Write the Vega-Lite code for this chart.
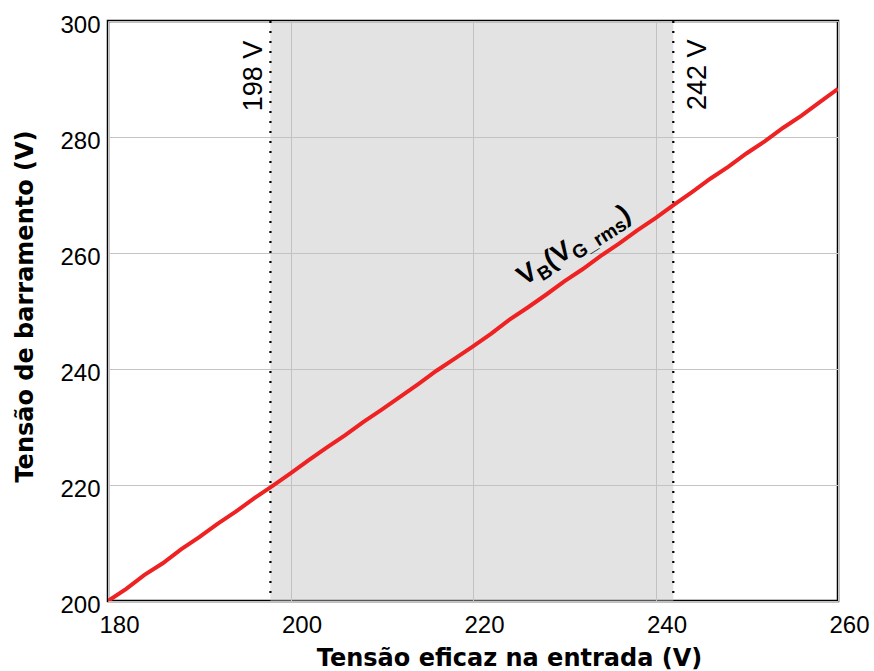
{
  "$schema": "https://vega.github.io/schema/vega-lite/v6.json",
  "width": 730,
  "height": 580,
  "autosize": {"type": "none"},
  "padding": {"left": 108, "top": 21, "right": 36, "bottom": 70},
  "background": "white",
  "config": {
    "view": {"stroke": "#000000", "strokeWidth": 2.5},
    "axis": {
      "domain": false,
      "ticks": false,
      "tickSize": 0,
      "grid": true,
      "gridColor": "#c4c4c4",
      "gridWidth": 1,
      "labelFont": "Liberation Sans",
      "labelFontSize": 24,
      "labelColor": "#000000",
      "labelFlush": false,
      "labelOverlap": false,
      "titleFont": "DejaVu Sans",
      "titleFontWeight": "bold",
      "titleFontSize": 24,
      "titleColor": "#000000"
    }
  },
  "datasets": {
    "curve": [
      {"vin": 180, "vb": 200.0}, {"vin": 182, "vb": 202.1}, {"vin": 184, "vb": 204.5},
      {"vin": 186, "vb": 206.5}, {"vin": 188, "vb": 208.9}, {"vin": 190, "vb": 211.0},
      {"vin": 192, "vb": 213.3}, {"vin": 194, "vb": 215.4}, {"vin": 196, "vb": 217.7},
      {"vin": 198, "vb": 219.8}, {"vin": 200, "vb": 222.0}, {"vin": 202, "vb": 224.3},
      {"vin": 204, "vb": 226.5}, {"vin": 206, "vb": 228.6}, {"vin": 208, "vb": 230.9},
      {"vin": 210, "vb": 233.0}, {"vin": 212, "vb": 235.2}, {"vin": 214, "vb": 237.4},
      {"vin": 216, "vb": 239.7}, {"vin": 218, "vb": 241.8}, {"vin": 220, "vb": 243.9},
      {"vin": 222, "vb": 246.1}, {"vin": 224, "vb": 248.5}, {"vin": 226, "vb": 250.6},
      {"vin": 228, "vb": 252.8}, {"vin": 230, "vb": 255.1}, {"vin": 232, "vb": 257.2},
      {"vin": 234, "vb": 259.5}, {"vin": 236, "vb": 261.6}, {"vin": 238, "vb": 263.9},
      {"vin": 240, "vb": 266.0}, {"vin": 242, "vb": 268.3}, {"vin": 244, "vb": 270.5},
      {"vin": 246, "vb": 272.8}, {"vin": 248, "vb": 274.9}, {"vin": 250, "vb": 277.2},
      {"vin": 252, "vb": 279.3}, {"vin": 254, "vb": 281.6}, {"vin": 256, "vb": 283.7},
      {"vin": 258, "vb": 286.0}, {"vin": 260, "vb": 288.3}
    ],
    "band": [{"vin": 197.8, "vin_end": 241.95}],
    "limits": [{"vin": 197.8}, {"vin": 241.95}],
    "lowLabel": [{"vin": 197.8, "vb": 296.6, "label": "198 V"}],
    "highLabel": [{"vin": 241.95, "vb": 296.8, "label": "242 V"}],
    "anno": [{"vin": 225.6, "vb": 254.3}]
  },
  "layer": [
    {
      "data": {"name": "band"},
      "mark": {"type": "rect", "color": "#c2c2c2", "opacity": 0.45},
      "encoding": {
        "x": {
          "field": "vin", "type": "quantitative", "title": "Tensão eficaz na entrada (V)",
          "scale": {"domain": [180, 260], "nice": false, "zero": false},
          "axis": {"values": [180, 200, 220, 240, 260], "labelPadding": 12, "labelOffset": 11,
                   "titleX": 401, "titleY": 64, "titleBaseline": "alphabetic", "titleAnchor": "middle"}
        },
        "x2": {"field": "vin_end"}
      }
    },
    {
      "data": {"name": "limits"},
      "mark": {"type": "rule", "color": "#000000", "strokeWidth": 2.2, "strokeDash": [2, 8]},
      "encoding": {
        "x": {"field": "vin", "type": "quantitative", "title": "Tensão eficaz na entrada (V)"}
      }
    },
    {
      "data": {"name": "curve"},
      "mark": {"type": "line", "color": "#ee2222", "strokeWidth": 4, "clip": true},
      "encoding": {
        "x": {"field": "vin", "type": "quantitative", "title": "Tensão eficaz na entrada (V)"},
        "y": {
          "field": "vb", "type": "quantitative", "title": "Tensão de barramento (V)",
          "scale": {"domain": [200, 300], "nice": false, "zero": false},
          "axis": {"values": [200, 220, 240, 260, 280, 300], "labelPadding": 8, "labelOffset": 4,
                   "titleX": -76, "titleY": 285, "titleBaseline": "alphabetic", "titleAngle": 270}
        }
      }
    },
    {
      "data": {"name": "lowLabel"},
      "mark": {"type": "text", "font": "Liberation Sans", "fontSize": 27, "angle": 270,
               "align": "right", "baseline": "alphabetic", "dy": -8, "color": "#000000"},
      "encoding": {
        "x": {"field": "vin", "type": "quantitative", "title": "Tensão eficaz na entrada (V)"},
        "y": {"field": "vb", "type": "quantitative", "title": "Tensão de barramento (V)"},
        "text": {"field": "label"}
      }
    },
    {
      "data": {"name": "highLabel"},
      "mark": {"type": "text", "font": "Liberation Sans", "fontSize": 27, "angle": 270,
               "align": "right", "baseline": "alphabetic", "dy": 33, "color": "#000000"},
      "encoding": {
        "x": {"field": "vin", "type": "quantitative", "title": "Tensão eficaz na entrada (V)"},
        "y": {"field": "vb", "type": "quantitative", "title": "Tensão de barramento (V)"},
        "text": {"field": "label"}
      }
    },
    {
      "data": {"name": "anno"},
      "mark": {"type": "text", "text": "V", "font": "Liberation Sans", "fontWeight": "bold", "fontSize": 27,
               "angle": 328, "align": "left", "baseline": "alphabetic", "dx": 0, "dy": 0, "color": "#000000"},
      "encoding": {
        "x": {"field": "vin", "type": "quantitative", "title": "Tensão eficaz na entrada (V)"},
        "y": {"field": "vb", "type": "quantitative", "title": "Tensão de barramento (V)"}
      }
    },
    {
      "data": {"name": "anno"},
      "mark": {"type": "text", "text": "B", "font": "Liberation Sans", "fontWeight": "bold", "fontSize": 19,
               "angle": 328, "align": "left", "baseline": "alphabetic", "dx": 18, "dy": 6, "color": "#000000"},
      "encoding": {
        "x": {"field": "vin", "type": "quantitative", "title": "Tensão eficaz na entrada (V)"},
        "y": {"field": "vb", "type": "quantitative", "title": "Tensão de barramento (V)"}
      }
    },
    {
      "data": {"name": "anno"},
      "mark": {"type": "text", "text": "(V", "font": "Liberation Sans", "fontWeight": "bold", "fontSize": 27,
               "angle": 328, "align": "left", "baseline": "alphabetic", "dx": 31.5, "dy": 0, "color": "#000000"},
      "encoding": {
        "x": {"field": "vin", "type": "quantitative", "title": "Tensão eficaz na entrada (V)"},
        "y": {"field": "vb", "type": "quantitative", "title": "Tensão de barramento (V)"}
      }
    },
    {
      "data": {"name": "anno"},
      "mark": {"type": "text", "text": "G_rms", "font": "Liberation Sans", "fontWeight": "bold", "fontSize": 19,
               "angle": 328, "align": "left", "baseline": "alphabetic", "dx": 58.5, "dy": 6, "color": "#000000"},
      "encoding": {
        "x": {"field": "vin", "type": "quantitative", "title": "Tensão eficaz na entrada (V)"},
        "y": {"field": "vb", "type": "quantitative", "title": "Tensão de barramento (V)"}
      }
    },
    {
      "data": {"name": "anno"},
      "mark": {"type": "text", "text": ")", "font": "Liberation Sans", "fontWeight": "bold", "fontSize": 27,
               "angle": 328, "align": "left", "baseline": "alphabetic", "dx": 118.7, "dy": 0, "color": "#000000"},
      "encoding": {
        "x": {"field": "vin", "type": "quantitative", "title": "Tensão eficaz na entrada (V)"},
        "y": {"field": "vb", "type": "quantitative", "title": "Tensão de barramento (V)"}
      }
    }
  ]
}
